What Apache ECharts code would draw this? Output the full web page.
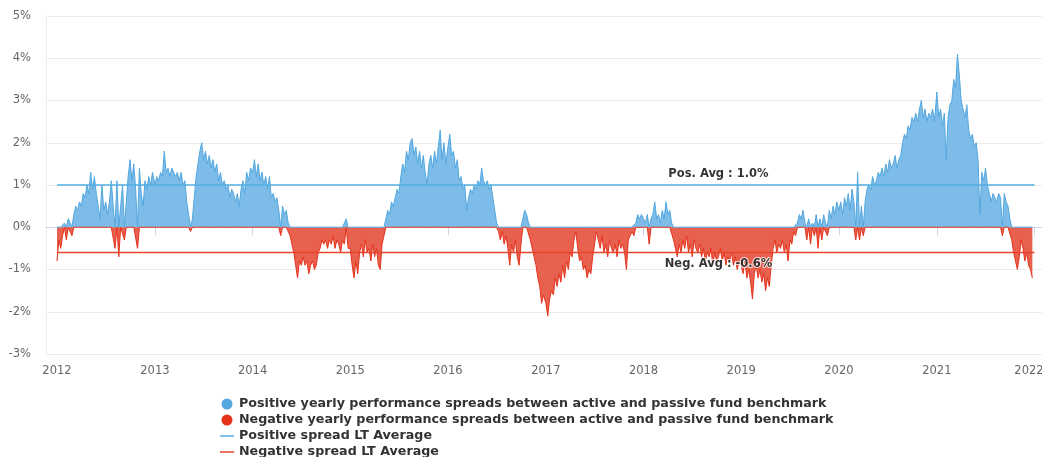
<!DOCTYPE html>
<html>
<head>
<meta charset="utf-8">
<script src="https://cdn.jsdelivr.net/npm/echarts@6/dist/echarts.min.js"></script>
<style>
  html, body { margin: 0; padding: 0; background: #fff; }
  #chart { width: 1042px; height: 457px; }
</style>
</head>
<body>
<div id="chart"></div>
<script>
// weekly readings of the yearly spread (%), one array per calendar year
var spread2012 = [-0.8,-0.3,-0.5,-0.2,0.1,-0.3,0.2,0.1,-0.2,0.3,0.5,0.4,0.6,0.5,0.8,0.7,1.0,0.8,1.3,0.9,1.2,0.8,0.5,0.2,1.0,0.4,0.6,0.3,0.6,1.1,0.5,-0.5,1.1,-0.7,0.5,1.0,-0.3,0.6,1.2,1.6,1.1,1.5,0.9,-0.5,1.4,0.8,0.5,1.1,0.9,1.2,1.0,1.3];
var spread2013 = [1.0,1.2,1.1,1.3,1.2,1.8,1.3,1.4,1.2,1.4,1.3,1.2,1.3,1.1,1.3,1.0,1.1,0.6,0.3,-0.1,0.2,0.7,1.2,1.5,1.8,2.0,1.6,1.8,1.5,1.7,1.4,1.6,1.3,1.5,1.1,1.3,1.0,1.1,0.9,1.0,0.7,0.9,0.8,0.6,0.8,0.5,0.9,1.1,0.8,1.3,1.1,1.4];
var spread2014 = [1.3,1.6,1.2,1.5,1.1,1.3,1.0,1.2,0.9,1.2,0.7,0.8,0.6,0.7,0.4,-0.2,0.5,0.3,0.4,0.1,-0.2,-0.4,-0.6,-0.9,-1.2,-0.8,-0.9,-0.7,-0.9,-0.8,-1.1,-0.9,-0.8,-1.0,-0.9,-0.6,-0.5,-0.3,-0.4,-0.3,-0.5,-0.3,-0.4,-0.2,-0.5,-0.3,-0.4,-0.6,-0.3,-0.4,0.2,-0.5];
var spread2015 = [-0.5,-0.9,-1.2,-0.8,-1.1,-0.6,-0.4,-0.7,-0.3,-0.6,-0.5,-0.8,-0.4,-0.7,-0.5,-0.9,-1.0,-0.4,-0.2,0.2,0.4,0.3,0.6,0.5,0.7,0.9,0.8,1.2,1.5,1.3,1.8,1.6,2.0,2.1,1.7,1.9,1.5,1.8,1.4,1.7,1.3,1.0,1.5,1.7,1.4,1.8,1.5,1.9,2.3,1.6,2.0,1.5];
var spread2016 = [1.9,2.2,1.7,1.8,1.4,1.6,1.1,1.2,0.9,1.0,0.4,0.7,0.9,0.8,1.0,0.9,1.1,1.0,1.4,1.1,1.0,1.1,0.9,1.0,0.7,0.4,0.1,-0.1,-0.3,-0.1,-0.4,-0.2,-0.5,-0.9,-0.4,-0.6,-0.3,-0.7,-0.9,-0.4,0.2,0.4,0.3,0.1,-0.3,-0.5,-0.7,-0.9,-1.2,-1.4,-1.8,-1.6];
var spread2017 = [-1.8,-2.1,-1.7,-1.5,-1.6,-1.2,-1.4,-1.1,-1.3,-0.9,-1.2,-0.8,-1.0,-0.6,-0.7,-0.3,-0.1,-0.5,-0.8,-0.7,-1.0,-0.9,-1.2,-1.0,-1.1,-0.7,-0.4,-0.1,-0.3,-0.5,-0.2,-0.6,-0.4,-0.7,-0.3,-0.5,-0.6,-0.4,-0.7,-0.3,-0.5,-0.4,-0.6,-1.0,-0.3,-0.2,-0.1,-0.2,0.1,0.3,0.2,0.3];
var spread2018 = [0.2,0.1,0.3,-0.4,0.2,0.3,0.6,0.2,0.3,0.1,0.4,0.2,0.6,0.3,0.4,0.1,-0.3,-0.5,-0.7,-0.4,-0.6,-0.3,-0.5,-0.2,-0.6,-0.4,-0.7,-0.3,-0.5,-0.6,-0.4,-0.7,-0.5,-0.8,-0.6,-0.7,-0.5,-0.9,-0.6,-0.8,-0.7,-0.5,-0.8,-0.6,-0.9,-0.7,-0.8,-0.6,-0.9,-0.7,-1.0,-0.8];
var spread2019 = [-0.9,-1.1,-0.8,-1.2,-1.0,-1.3,-1.7,-1.1,-0.9,-1.2,-1.0,-1.3,-1.1,-1.5,-1.2,-1.4,-0.9,-0.5,-0.3,-0.6,-0.4,-0.5,-0.3,-0.6,-0.4,-0.8,-0.3,-0.4,-0.1,-0.2,0.1,0.3,0.2,0.4,0.1,-0.3,0.2,-0.4,0.1,-0.2,0.3,-0.5,0.2,-0.3,0.3,0.1,-0.2,0.4,0.2,0.5,0.3,0.6];
var spread2020 = [0.4,0.6,0.3,0.7,0.5,0.8,0.4,0.9,0.6,-0.3,1.3,-0.3,0.5,-0.2,0.6,0.9,1.0,0.9,1.2,1.0,1.1,1.3,1.2,1.4,1.2,1.5,1.3,1.6,1.4,1.5,1.7,1.4,1.6,1.7,2.0,2.2,2.1,2.4,2.3,2.6,2.5,2.7,2.5,2.8,3.0,2.6,2.8,2.5,2.7,2.6,2.8,2.5];
var spread2021 = [3.2,2.6,2.8,2.4,2.7,1.6,2.6,2.9,3.0,3.5,3.3,4.1,3.6,3.0,2.8,2.6,2.9,2.3,2.1,2.2,1.9,2.0,1.6,0.3,1.3,1.1,1.4,1.0,0.8,0.6,0.8,0.7,0.6,0.8,0.7,-0.2,0.8,0.6,0.5,0.2,-0.3,-0.6,-0.8,-1.0,-0.7,-0.3,-0.5,-0.8,-0.6,-0.9,-1.0,-1.2];
var years = [2012,2013,2014,2015,2016,2017,2018,2019,2020,2021];
var yearly = [spread2012,spread2013,spread2014,spread2015,spread2016,spread2017,spread2018,spread2019,spread2020,spread2021];

var posAvg = 1.0;
var negAvg = -0.6;
var avgStart = '2012-01-01';
var avgEnd = '2022-01-01';
var avgLabelDate = '2018-10-08';

var seriesNames = [
    'Positive yearly performance spreads between active and passive fund benchmark',
    'Negative yearly performance spreads between active and passive fund benchmark',
    'Positive spread LT Average',
    'Negative spread LT Average'
];

function pad(n){ return n < 10 ? '0' + n : '' + n; }

// weekly dates within each year, split into positive / negative parts
var posData = [], negData = [];
years.forEach(function(y, i){
    yearly[i].forEach(function(v, w){
        var d = new Date(y, 0, 1 + 7 * w);
        var key = d.getFullYear() + '-' + pad(d.getMonth() + 1) + '-' + pad(d.getDate());
        posData.push([key, Math.max(v, 0)]);
        negData.push([key, Math.min(v, 0)]);
    });
});

var chart = echarts.init(document.getElementById('chart'));
var font = 'DejaVu Sans';
// thin bar used as legend icon for the average lines
var lineIcon = 'path://M0,0H28V3H0Z';
var lastYear = 2022;

var option = {
    animation: false,
    textStyle: { fontFamily: font },
    grid: { left: 46, right: 0, top: 16, bottom: 103, outerBoundsMode: 'none', containLabel: false },
    legend: {
        orient: 'vertical',
        left: 220,
        top: 397,
        height: 80,
        padding: 0,
        itemGap: 2,
        itemWidth: 14,
        itemHeight: 11,
        symbolKeepAspect: true,
        selectedMode: false,
        textStyle: { fontFamily: font, fontSize: 12.7, fontWeight: 'bold', color: '#333', lineHeight: 14 },
        data: [
            { name: seriesNames[0], icon: 'circle' },
            { name: seriesNames[1], icon: 'circle' },
            { name: seriesNames[2], icon: lineIcon },
            { name: seriesNames[3], icon: lineIcon }
        ]
    },
    xAxis: {
        type: 'time',
        min: new Date(2011, 10, 21).getTime(),
        max: new Date(2022, 0, 29).getTime(),
        minInterval: 365 * 24 * 3600 * 1000,
        maxInterval: 366 * 24 * 3600 * 1000,
        axisLine: { lineStyle: { color: '#ccd6eb' } },
        axisTick: { show: true, length: 8, lineStyle: { color: '#ccd6eb' } },
        splitLine: { show: false },
        axisLabel: {
            color: '#666', fontSize: 11.5, fontFamily: font, margin: 11,
            showMinLabel: false, showMaxLabel: false,
            formatter: function(value){
                var y = new Date(value).getFullYear();
                // last label is pulled inside the chart edge
                return y === lastYear ? '{last|' + y + '}' : '' + y;
            },
            rich: {
                last: { color: '#666', fontSize: 11.5, fontFamily: font, padding: [0, 11, 0, 0] }
            }
        }
    },
    yAxis: {
        type: 'value',
        min: -3,
        max: 5,
        interval: 1,
        axisLine: { show: true, lineStyle: { color: '#eceff4' } },
        axisTick: { show: false },
        splitLine: { lineStyle: { color: '#ececec' } },
        axisLabel: { color: '#666', fontSize: 11.5, fontFamily: font, margin: 15, formatter: '{value}%' }
    },
    series: [
        {
            name: seriesNames[0],
            type: 'line',
            color: '#52a7df',
            data: posData,
            symbol: 'none',
            lineStyle: { width: 1, color: '#52a7df' },
            areaStyle: { color: '#7dbce8', opacity: 1 }
        },
        {
            name: seriesNames[1],
            type: 'line',
            color: '#e5331c',
            data: negData,
            symbol: 'none',
            lineStyle: { width: 1, color: '#e5331c' },
            areaStyle: { color: '#e8604e', opacity: 1 }
        },
        {
            name: seriesNames[2],
            type: 'line',
            color: '#52aee0',
            symbol: 'none',
            lineStyle: { width: 1.5 },
            data: [[avgStart, posAvg], [avgEnd, posAvg]]
        },
        {
            name: seriesNames[3],
            type: 'line',
            color: '#e8452f',
            symbol: 'none',
            lineStyle: { width: 1.5 },
            data: [[avgStart, negAvg], [avgEnd, negAvg]]
        },
        {
            name: 'avgLabels',
            type: 'scatter',
            symbolSize: 0.1,
            itemStyle: { color: 'rgba(0,0,0,0)' },
            z: 10,
            label: {
                show: true,
                fontFamily: font,
                fontSize: 11.5,
                fontWeight: 'bold',
                color: '#000',
                textBorderColor: '#fff',
                textBorderWidth: 2,
                distance: 5
            },
            data: [
                { value: [avgLabelDate, posAvg], label: { position: 'top', formatter: 'Pos. Avg : ' + posAvg.toFixed(1) + '%' } },
                { value: [avgLabelDate, negAvg], label: { position: 'bottom', formatter: 'Neg. Avg : ' + negAvg.toFixed(1) + '%' } }
            ]
        }
    ]
};
chart.setOption(option);
</script>
</body>
</html>
